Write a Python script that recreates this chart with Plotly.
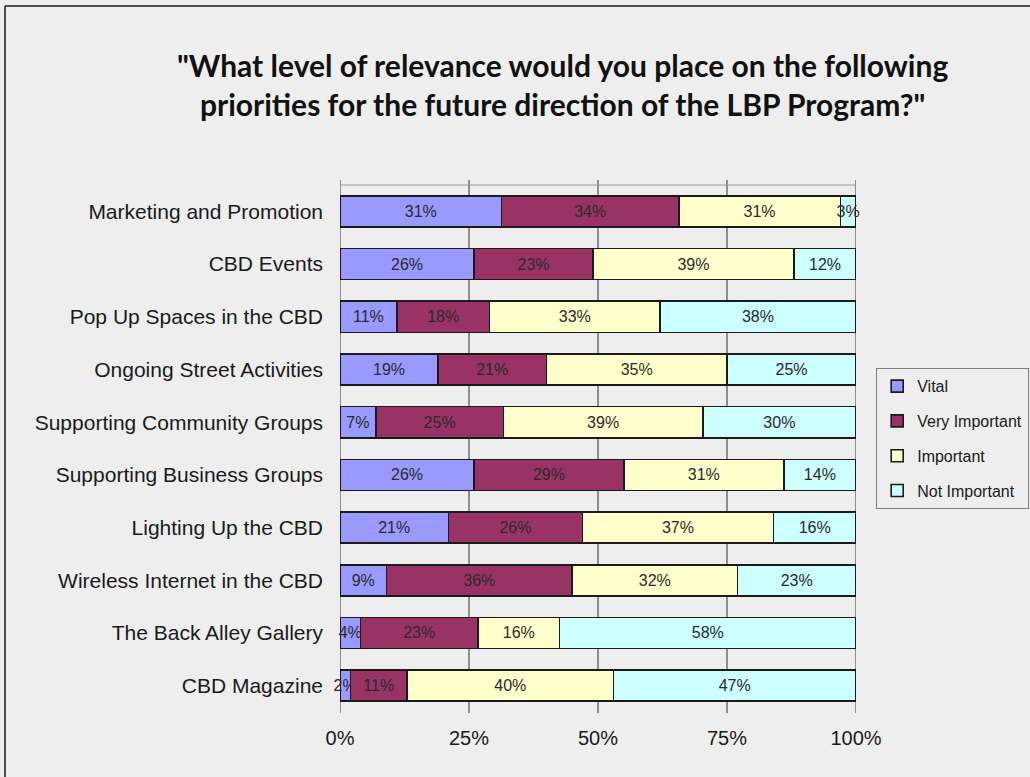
import plotly.graph_objects as go

# Survey priorities (top to bottom as displayed)
priorities = [
    "Marketing and Promotion",
    "CBD Events",
    "Pop Up Spaces in the CBD",
    "Ongoing Street Activities",
    "Supporting Community Groups",
    "Supporting Business Groups",
    "Lighting Up the CBD",
    "Wireless Internet in the CBD",
    "The Back Alley Gallery",
    "CBD Magazine",
]

# Share of responses (%) per relevance level
vital = [31, 26, 11, 19, 7, 26, 21, 9, 4, 2]
very_important = [34, 23, 18, 21, 25, 29, 26, 36, 23, 11]
important = [31, 39, 33, 35, 39, 31, 37, 32, 16, 40]
not_important = [3, 12, 38, 25, 30, 14, 16, 23, 58, 47]

level_names = ["Vital", "Very Important", "Important", "Not Important"]
level_colors = ["#9999FF", "#993366", "#FFFFCC", "#CCFFFF"]
level_values = [vital, very_important, important, not_important]

x_ticks = [0, 25, 50, 75, 100]
x_tick_text = ["0%", "25%", "50%", "75%", "100%"]

W, H = 1030, 777
L, R, T, B = 340, 174, 185, 65
PW, PH = W - L - R, H - T - B


def px_x(px):
    return (px - L) / PW


def px_y(py):
    return (H - B - py) / PH


BG = "#EEEEEE"
GRID = "#6E6E6E"

fig = go.Figure()
for name, color, vals in zip(level_names, level_colors, level_values):
    fig.add_trace(go.Bar(
        y=priorities,
        x=vals,
        name=name,
        legendgroup=name,
        orientation="h",
        marker=dict(color=color, line=dict(color="#1A1A1A", width=1.6)),
        text=[f"{v}%" for v in vals],
        textposition="inside",
        insidetextanchor="middle",
        constraintext="none",
        textangle=0,
        insidetextfont=dict(family="Liberation Sans, Arial, sans-serif", size=16, color="#2A2A2A"),
        cliponaxis=False,
        hoverinfo="skip",
    ))

shapes = []
# vertical grid lines, extending a little above the plot top
for t in x_ticks:
    shapes.append(dict(type="line", xref="x", yref="paper", x0=t, x1=t,
                       y0=px_y(713), y1=px_y(180),
                       line=dict(color=GRID, width=1.5), layer="below"))
# top frame line of the plot area
shapes.append(dict(type="line", xref="paper", yref="paper", x0=0, x1=1,
                   y0=px_y(185), y1=px_y(185),
                   line=dict(color="#9A9A9A", width=1.2), layer="below"))
# outer chart border (left and top edges)
shapes.append(dict(type="line", xref="paper", yref="paper",
                   x0=px_x(5), x1=px_x(1040), y0=px_y(6), y1=px_y(6),
                   line=dict(color="#1A1A1A", width=1.5)))
shapes.append(dict(type="line", xref="paper", yref="paper",
                   x0=px_x(5), x1=px_x(5), y0=px_y(6), y1=px_y(790),
                   line=dict(color="#1A1A1A", width=1.5)))

fig.update_layout(
    width=W, height=H,
    margin=dict(l=L, r=R, t=T, b=B, pad=0, autoexpand=False),
    paper_bgcolor=BG,
    plot_bgcolor=BG,
    barmode="stack",
    barnorm="percent",
    bargap=0.41,
    shapes=shapes,
    showlegend=True,
    legend=dict(
        x=px_x(876), y=px_y(368), xanchor="left", yanchor="top",
        bgcolor=BG, bordercolor="#7F7F7F", borderwidth=1.2,
        font=dict(family="Liberation Sans, Arial, sans-serif", size=16, color="#1A1A1A"),
        traceorder="grouped", tracegroupgap=11, itemwidth=30,
    ),
    annotations=[dict(
        text='<b>"What level of relevance would you place on the following<br>priorities for the future direction of the LBP Program?"</b>',
        xref="paper", yref="paper", x=px_x(562), y=px_y(84),
        xanchor="center", yanchor="middle", showarrow=False,
        font=dict(family="Lato, Open Sans, sans-serif", size=30, color="#111111"),
        align="center",
    )],
    xaxis=dict(
        range=[0, 100], tickvals=x_ticks, ticktext=x_tick_text,
        showgrid=False, zeroline=False, showline=False,
        ticks="", ticklabelstandoff=12,
        tickfont=dict(family="Liberation Sans, Arial, sans-serif", size=20, color="#1A1A1A"),
        fixedrange=True,
    ),
    yaxis=dict(
        categoryorder="array", categoryarray=priorities, autorange="reversed",
        showgrid=False, zeroline=False, showline=False, ticks="",
        ticklabelstandoff=16,
        tickfont=dict(family="Liberation Sans, Arial, sans-serif", size=21, color="#1A1A1A"),
        fixedrange=True,
    ),
)

fig.write_html("out.html")
